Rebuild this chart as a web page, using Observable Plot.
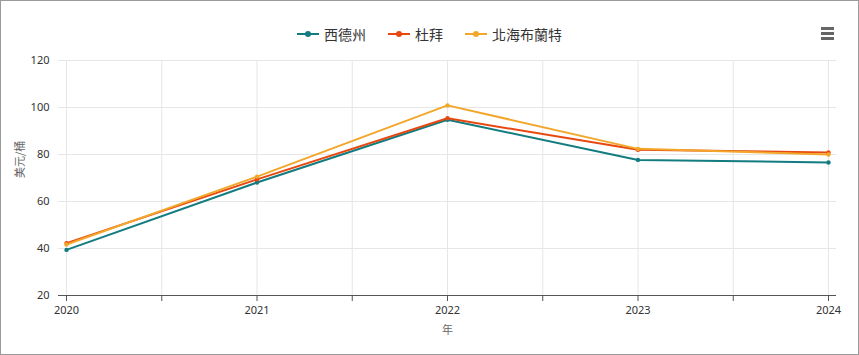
<!DOCTYPE html>
<html><head><meta charset="utf-8">
<script src="https://cdn.jsdelivr.net/npm/d3@7"></script>
<script src="https://cdn.jsdelivr.net/npm/@observablehq/plot@0.6"></script>
<style>
body{margin:0;background:#fff;font-family:"Noto Sans","Noto Sans CJK TC",sans-serif;}
#wrap{position:relative;width:859px;height:355px;box-sizing:border-box;border:1px solid #9a9a9a;overflow:hidden;}
#legend{position:absolute;top:23px;left:0;width:100%;display:flex;justify-content:center;gap:0;font-size:14px;color:#333;font-family:"Noto Sans CJK TC","Noto Sans",sans-serif;}
.item{display:flex;align-items:center;margin:0 11px;}
.sym{position:relative;width:22px;height:2px;margin-right:5px;}
.sym i{position:absolute;left:8px;top:-2px;width:6px;height:6px;border-radius:3px;}
#menu{position:absolute;left:820px;top:26px;width:13px;}
#menu div{height:2.5px;background:#666;margin-bottom:2.5px;}
#chart{position:absolute;left:0;top:0;}
</style></head><body>
<div id="wrap"><div id="chart"></div><div id="legend"></div><div id="menu"><div></div><div></div><div></div></div></div>
<script>
const years = [2020, 2021, 2022, 2023, 2024];
const seriesNames = ["西德州", "杜拜", "北海布蘭特"];
const colors = ["#127c80", "#e8480f", "#f2a62a"];
const wti = [39.4, 68.1, 94.8, 77.7, 76.6];
const dubai = [42.3, 69.4, 95.4, 82.0, 80.9];
const brent = [41.7, 70.6, 100.9, 82.4, 80.0];
const yTicks = [20, 40, 60, 80, 100, 120];
const xTicks = [2020, 2020.5, 2021, 2021.5, 2022, 2022.5, 2023, 2023.5, 2024];
const yLabel = "美元/桶";
const xLabel = "年";

const valuesList = [wti, dubai, brent];
const data = [];
seriesNames.forEach((s, i) => years.forEach((y, j) => data.push({series: s, year: y, value: valuesList[i][j]})));

const legend = document.getElementById("legend");
seriesNames.forEach((s, i) => {
  const it = document.createElement("div"); it.className = "item";
  it.innerHTML = `<span class="sym" style="background:${colors[i]}"><i style="background:${colors[i]}"></i></span><span>${s}</span>`;
  legend.appendChild(it);
});

const font = '"Noto Sans","Noto Sans CJK TC",sans-serif';
const plot = Plot.plot({
  width: 857, height: 353,
  marginLeft: 65, marginRight: 30, marginTop: 59, marginBottom: 59,
  style: {fontFamily: font, fontSize: "11px", color: "#333", background: "transparent"},
  x: {domain: [2020, 2024]},
  y: {domain: [20, 120]},
  color: {domain: seriesNames, range: colors},
  marks: [
    Plot.ruleX(xTicks, {stroke: "#e6e6e6", strokeWidth: 1}),
    Plot.ruleY(yTicks.filter(d => d !== 20), {stroke: "#e6e6e6", strokeWidth: 1, insetLeft: -8, insetRight: -8}),
    Plot.ruleY([20], {stroke: "#555", strokeWidth: 1, insetLeft: -8, insetRight: -8}),
    Plot.axisY(yTicks, {tickSize: 0, tickPadding: 17, label: null, fontSize: 11, fill: "#333"}),
    Plot.axisX(xTicks, {tickSize: 6, stroke: "#555", tickPadding: 5, tickFormat: d => Number.isInteger(d) ? String(d) : "", label: null, fontSize: 11, fill: "#333"}),
    Plot.lineY(data, {x: "year", y: "value", stroke: "series", z: "series", strokeWidth: 2}),
    Plot.dot(data, {x: "year", y: "value", fill: "series", r: 2.2}),
    Plot.text([yLabel], {frameAnchor: "left", dx: -46, rotate: -90, fontSize: 11, fill: "#666", fontFamily: '"Noto Sans CJK TC",sans-serif'}),
    Plot.text([xLabel], {frameAnchor: "bottom", dy: 38, fontSize: 11, fill: "#666", fontFamily: '"Noto Sans CJK TC",sans-serif'})
  ]
});
document.getElementById("chart").appendChild(plot);
</script>
</body></html>
